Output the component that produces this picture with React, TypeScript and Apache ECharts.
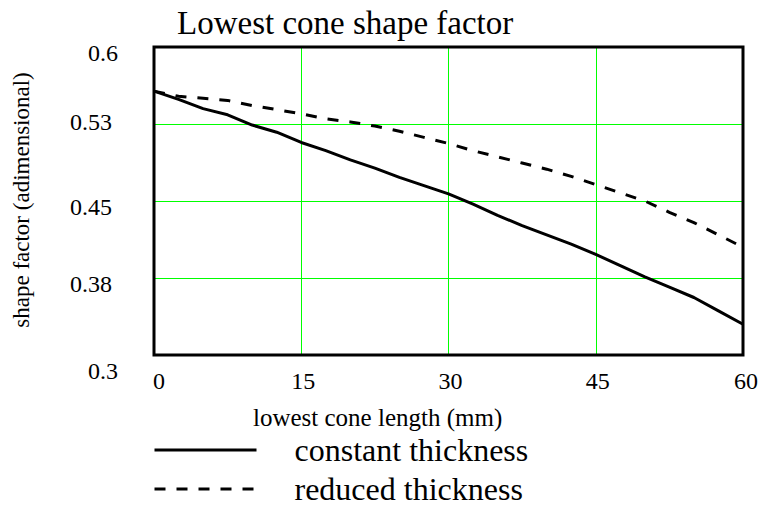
import React, { useEffect, useRef } from "react";
import * as echarts from "echarts";

const xValues = [0, 2.5, 5, 7.5, 10, 12.5, 15, 17.5, 20, 22.5, 25, 27.5, 30, 32.5, 35, 37.5, 40, 42.5, 45, 47.5, 50, 52.5, 55, 57.5, 60];
const constantThickness = [0.557, 0.549, 0.540, 0.534, 0.524, 0.517, 0.507, 0.499, 0.490, 0.482, 0.473, 0.465, 0.457, 0.447, 0.436, 0.426, 0.417, 0.408, 0.398, 0.387, 0.376, 0.366, 0.356, 0.343, 0.330];
const reducedThickness = [0.557, 0.552, 0.550, 0.548, 0.543, 0.539, 0.535, 0.530, 0.527, 0.523, 0.518, 0.512, 0.506, 0.499, 0.493, 0.487, 0.481, 0.474, 0.466, 0.458, 0.450, 0.439, 0.429, 0.417, 0.405];
const yTickLabels = ["0.3", "0.38", "0.45", "0.53", "0.6"];
const xTickLabels = ["0", "15", "30", "45", "60"];
const seriesNames = ["constant thickness", "reduced thickness"];

const Y_MIN = 0.3;
const Y_STEP = 0.075;
const X_STEP = 15;
const FONT = "'Liberation Serif', 'Times New Roman', serif";
const GREEN = "#00ff00";

export default function App() {
  const ref = useRef<HTMLDivElement>(null);

  useEffect(() => {
    if (!ref.current) return;
    const chart = echarts.init(ref.current, undefined, { renderer: "svg" });

    const yShift = [16, 6, 6, -2, 6];
    const yRich: Record<string, any> = {};
    yTickLabels.forEach((lab, i) => {
      const s = yShift[i];
      const right = lab.length > 3 ? 6 : 0;
      yRich["t" + i] = {
        fontSize: 24,
        fontFamily: FONT,
        color: "#000",
        padding: s >= 0 ? [2 * s, right, 0, 0] : [0, right, -2 * s, 0],
      };
    });
    const xRich: Record<string, any> = {};
    xTickLabels.forEach((_, i) => {
      xRich["x" + i] = {
        fontSize: 24,
        fontFamily: FONT,
        color: "#000",
        padding: i === 0 ? [0, 0, 0, 10] : i === 4 ? [0, 0, 0, 6] : [0, 0, 0, 4],
      };
    });

    chart.setOption({
      animation: false,
      backgroundColor: "#fff",
      title: {
        text: "Lowest cone shape factor",
        left: 177,
        top: 6,
        padding: 0,
        textStyle: { fontFamily: FONT, fontSize: 33, fontWeight: "normal", color: "#000" },
      },
      grid: {
        left: 154,
        top: 47,
        width: 589,
        height: 308,
        show: true,
        borderColor: "#000",
        borderWidth: 3,
        z: 3,
      },
      legend: {
        orient: "vertical",
        left: 153,
        top: 432,
        padding: 0,
        itemWidth: 102,
        itemHeight: 20,
        itemGap: 3,
        selectedMode: false,
        data: seriesNames,
        itemStyle: { color: "rgba(0,0,0,0)", borderWidth: 0, opacity: 0 },
        lineStyle: { width: 3 },
        textStyle: {
          fontFamily: FONT,
          fontSize: 32,
          color: "#000",
          lineHeight: 26,
          padding: [10, 0, 0, 33],
        },
      },
      xAxis: {
        type: "value",
        min: 0,
        max: 60,
        interval: X_STEP,
        axisLine: { show: false },
        axisTick: { show: false },
        splitLine: { show: true, lineStyle: { color: GREEN, width: 1, opacity: 1 } },
        axisLabel: {
          margin: 14,
          formatter: (v: number) => {
            const i = Math.round(v / X_STEP);
            return `{x${i}|${xTickLabels[i]}}`;
          },
          rich: xRich,
        },
      },
      yAxis: {
        type: "value",
        min: Y_MIN,
        max: 0.6,
        interval: Y_STEP,
        axisLine: { show: false },
        axisTick: { show: false },
        splitLine: { show: true, lineStyle: { color: GREEN, width: 1, opacity: 1 } },
        axisLabel: {
          margin: 36,
          align: "right",
          formatter: (v: number) => {
            const i = Math.round((v - Y_MIN) / Y_STEP);
            return `{t${i}|${yTickLabels[i]}}`;
          },
          rich: yRich,
        },
      },
      graphic: [
        {
          type: "text",
          left: 253,
          top: 405,
          style: {
            text: "lowest cone length (mm)",
            fontFamily: FONT,
            fontSize: 25,
            fill: "#000",
          },
        },
        {
          type: "text",
          x: 21,
          y: 200,
          rotation: Math.PI / 2,
          style: {
            text: "shape factor (adimensional)",
            fontFamily: FONT,
            fontSize: 23,
            fill: "#000",
            align: "center",
            verticalAlign: "middle",
          },
        },
      ],
      series: [
        {
          name: seriesNames[0],
          type: "line",
          data: xValues.map((x, i) => [x, constantThickness[i]]),
          symbol: "none",
          lineStyle: { color: "#000", width: 3, type: "solid" },
          itemStyle: { color: "#000" },
        },
        {
          name: seriesNames[1],
          type: "line",
          data: xValues.map((x, i) => [x, reducedThickness[i]]),
          symbol: "none",
          lineStyle: { color: "#000", width: 3, type: [11, 11] },
          itemStyle: { color: "#000" },
        },
      ],
    });

    return () => chart.dispose();
  }, []);

  return (
    <div
      ref={ref}
      style={{ position: "fixed", left: 0, top: 0, width: 761, height: 508 }}
    />
  );
}
